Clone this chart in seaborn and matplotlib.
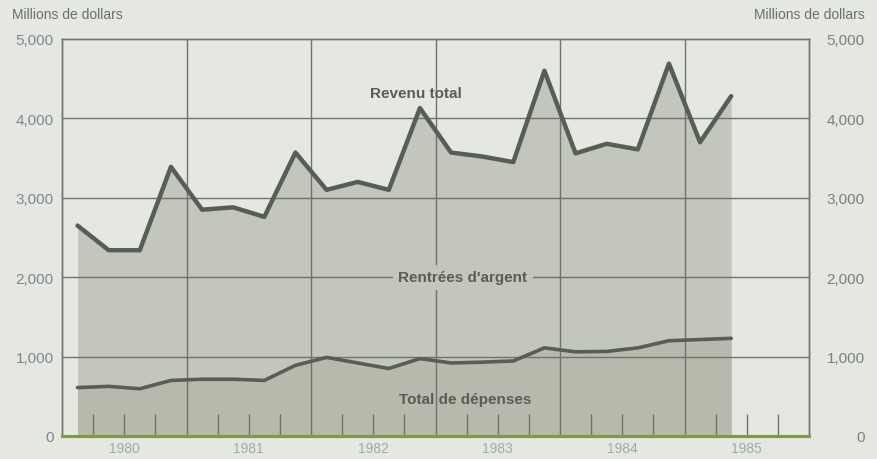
import pandas as pd
import matplotlib.pyplot as plt
import seaborn as sns
from matplotlib.ticker import FuncFormatter

# DATA (quarterly, millions de dollars)
# -------------------------------------
years = [1980, 1981, 1982, 1983, 1984, 1985]
quarters = ["T1", "T2", "T3", "T4"]
revenu_total = [2650, 2340, 2340, 3390,
                2850, 2880, 2760, 3570,
                3100, 3200, 3100, 4130,
                3570, 3520, 3450, 4600,
                3560, 3680, 3610, 4690,
                3700, 4280]
total_depenses = [610, 625, 595, 700,
                  715, 715, 700, 890,
                  990, 920, 850, 975,
                  920, 930, 945, 1110,
                  1060, 1065, 1110, 1200,
                  1215, 1230]
y_ticks = [0, 1000, 2000, 3000, 4000, 5000]

# quarter mid-points along the time axis
t = [y + (q + 0.5) / 4 for y in years for q in range(4)][:len(revenu_total)]
df = pd.DataFrame({"t": t, "revenu": revenu_total, "depenses": total_depenses})

# STYLE
# -----
sns.set_style("white")
plt.rcParams["font.family"] = ["Liberation Sans", "DejaVu Sans"]
bg = "#e5e8e0"
fill_rev = "#c3c6ba"
fill_dep = "#b6b9ac"
line_col = "#595d57"
grid_col = "#70736c"

fig = plt.figure(figsize=(8.77, 4.6), dpi=100, facecolor=bg)
ax = fig.add_axes([62 / 877, 1 - 437 / 460, (809 - 62) / 877, (437 - 40) / 460])
ax.set_facecolor(bg)
ax.set_axisbelow(False)

# filled areas
ax.fill_between(df["t"], df["revenu"], color=fill_rev, lw=0, zorder=1)
ax.fill_between(df["t"], df["depenses"], color=fill_dep, lw=0, zorder=1)

# grid
for y in y_ticks[1:-1]:
    ax.axhline(y, color=grid_col, lw=1, zorder=2)
for yr in years[1:]:
    ax.axvline(yr, color=grid_col, lw=1, zorder=2)

# lines
sns.lineplot(data=df, x="t", y="revenu", ax=ax, color=line_col, lw=3.2, zorder=4)
sns.lineplot(data=df, x="t", y="depenses", ax=ax, color=line_col, lw=2.6, zorder=4)

ax.set_xlim(years[0], years[-1] + 1)
ax.set_ylim(0, 5000)
ax.set_xlabel("")
ax.set_ylabel("")

# x axis: quarter ticks inside, year labels centered under each year
ax.set_xticks([y + q / 4 for y in years for q in range(1, 4)], [])
ax.tick_params(axis="x", which="major", bottom=True, direction="in", length=16, width=1,
               color=grid_col)
for yr in years:
    ax.text(yr + 0.5, -0.013, str(yr), transform=ax.get_xaxis_transform(),
            ha="center", va="top", fontsize=10, color="#a2a9ac")

# y axis (left)
fmt = FuncFormatter(lambda v, p: f"{int(v):,}")
ax.set_yticks(y_ticks)
ax.yaxis.set_major_formatter(fmt)
ax.tick_params(axis="y", length=0, pad=6, labelsize=11, labelcolor="#7a8893")

# y axis (right)
ax2 = ax.twinx()
ax2.set_ylim(0, 5000)
ax2.set_yticks(y_ticks)
ax2.yaxis.set_major_formatter(fmt)
ax2.tick_params(axis="y", length=0, pad=40, labelsize=11, labelcolor="#7b7f80")
for lab in ax2.get_yticklabels():
    lab.set_horizontalalignment("right")

for a in (ax, ax2):
    for s in ("left", "top", "right"):
        a.spines[s].set_color(grid_col)
        a.spines[s].set_linewidth(1)
    a.spines["bottom"].set_color("#7d9a45")
    a.spines["bottom"].set_linewidth(2.2)
ax2.spines["bottom"].set_zorder(5)

# annotations
txt = dict(fontsize=11, fontweight="bold", color="#595d56", ha="center", va="center", zorder=6)
ax.text(1982.84, 4320, "Revenu total", **txt)
ax.text(1983.22, 2000, "Rentrées d'argent",
        bbox=dict(boxstyle="square,pad=0.35", fc=fill_rev, ec="none"), **txt)
ax.text(1983.24, 460, "Total de dépenses", **txt)

fig.text(12 / 877, 1 - 15 / 460, "Millions de dollars", fontsize=10, color="#6b706e",
         ha="left", va="center")
fig.text(865 / 877, 1 - 15 / 460, "Millions de dollars", fontsize=10, color="#6b706e",
         ha="right", va="center")

fig.savefig("out.png", dpi=100, facecolor=bg)
